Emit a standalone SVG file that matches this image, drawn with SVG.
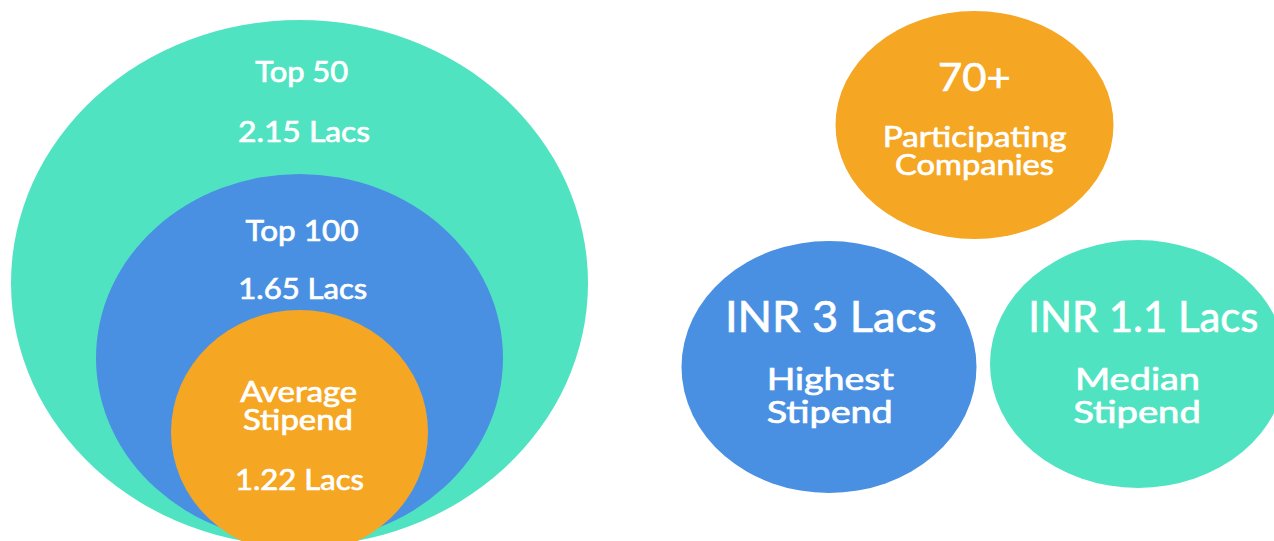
<svg xmlns="http://www.w3.org/2000/svg" width="1274" height="541" viewBox="0 0 1274 541">
  <style>
    .teal { fill: #50E3C2; }
    .blue { fill: #4A90E2; }
    .orange { fill: #F5A623; }
    text { fill: #FFFFFF; stroke: #FFFFFF; stroke-width: 0.7px; font-family: Lato, "Open Sans", "Liberation Sans", sans-serif; font-weight: 400; text-anchor: middle; }
    .s28 { font-size: 28px; }
    .s29 { font-size: 29px; }
    .s30 { font-size: 30px; }
    .s39 { font-size: 39px; }
    .s42 { font-size: 42px; }
  </style>
  <rect width="1274" height="541" fill="#FFFFFF"/>

  <g id="top50">
    <ellipse class="teal" cx="299.5" cy="283" rx="288.5" ry="263"/>
    <text class="s28" x="301.7" y="82" textLength="93" lengthAdjust="spacingAndGlyphs">Top 50</text>
    <text class="s28" x="304" y="141.7" textLength="132" lengthAdjust="spacingAndGlyphs">2.15 Lacs</text>
  </g>

  <g id="top100">
    <ellipse class="blue" cx="299.5" cy="358" rx="203.5" ry="184"/>
    <text class="s28" x="302" y="241" textLength="113" lengthAdjust="spacingAndGlyphs">Top 100</text>
    <text class="s28" x="302.8" y="299" textLength="129" lengthAdjust="spacingAndGlyphs">1.65 Lacs</text>
  </g>

  <g id="average">
    <ellipse class="orange" cx="299.5" cy="432" rx="128.5" ry="122"/>
    <text class="s28" x="298.7" y="401.7" textLength="117" lengthAdjust="spacingAndGlyphs">Average</text>
    <text class="s28" x="298" y="430" textLength="110" lengthAdjust="spacingAndGlyphs">Stipend</text>
    <text class="s28" x="299.5" y="490" textLength="129" lengthAdjust="spacingAndGlyphs">1.22 Lacs</text>
  </g>

  <g id="companies">
    <ellipse class="orange" cx="974.5" cy="125" rx="139" ry="114"/>
    <text class="s39" x="974.3" y="90.7" textLength="72.7" lengthAdjust="spacingAndGlyphs">70+</text>
    <text class="s29" x="974.7" y="146.7" textLength="184" lengthAdjust="spacingAndGlyphs">Participating</text>
    <text class="s29" x="974.5" y="175" textLength="159" lengthAdjust="spacingAndGlyphs">Companies</text>
  </g>

  <g id="highest">
    <ellipse class="blue" cx="829" cy="367" rx="147.5" ry="126"/>
    <text class="s42" x="830.8" y="331.7" textLength="211.7" lengthAdjust="spacingAndGlyphs">INR 3 Lacs</text>
    <text class="s30" x="830.3" y="390" textLength="127.3" lengthAdjust="spacingAndGlyphs">Highest</text>
    <text class="s30" x="829.7" y="423.3" textLength="126" lengthAdjust="spacingAndGlyphs">Stipend</text>
  </g>

  <g id="median">
    <ellipse class="teal" cx="1138" cy="364" rx="148" ry="124"/>
    <text class="s42" x="1143.3" y="331.7" textLength="230" lengthAdjust="spacingAndGlyphs">INR 1.1 Lacs</text>
    <text class="s30" x="1137.5" y="390" textLength="125" lengthAdjust="spacingAndGlyphs">Median</text>
    <text class="s30" x="1137" y="423.3" textLength="127.7" lengthAdjust="spacingAndGlyphs">Stipend</text>
  </g>
</svg>
